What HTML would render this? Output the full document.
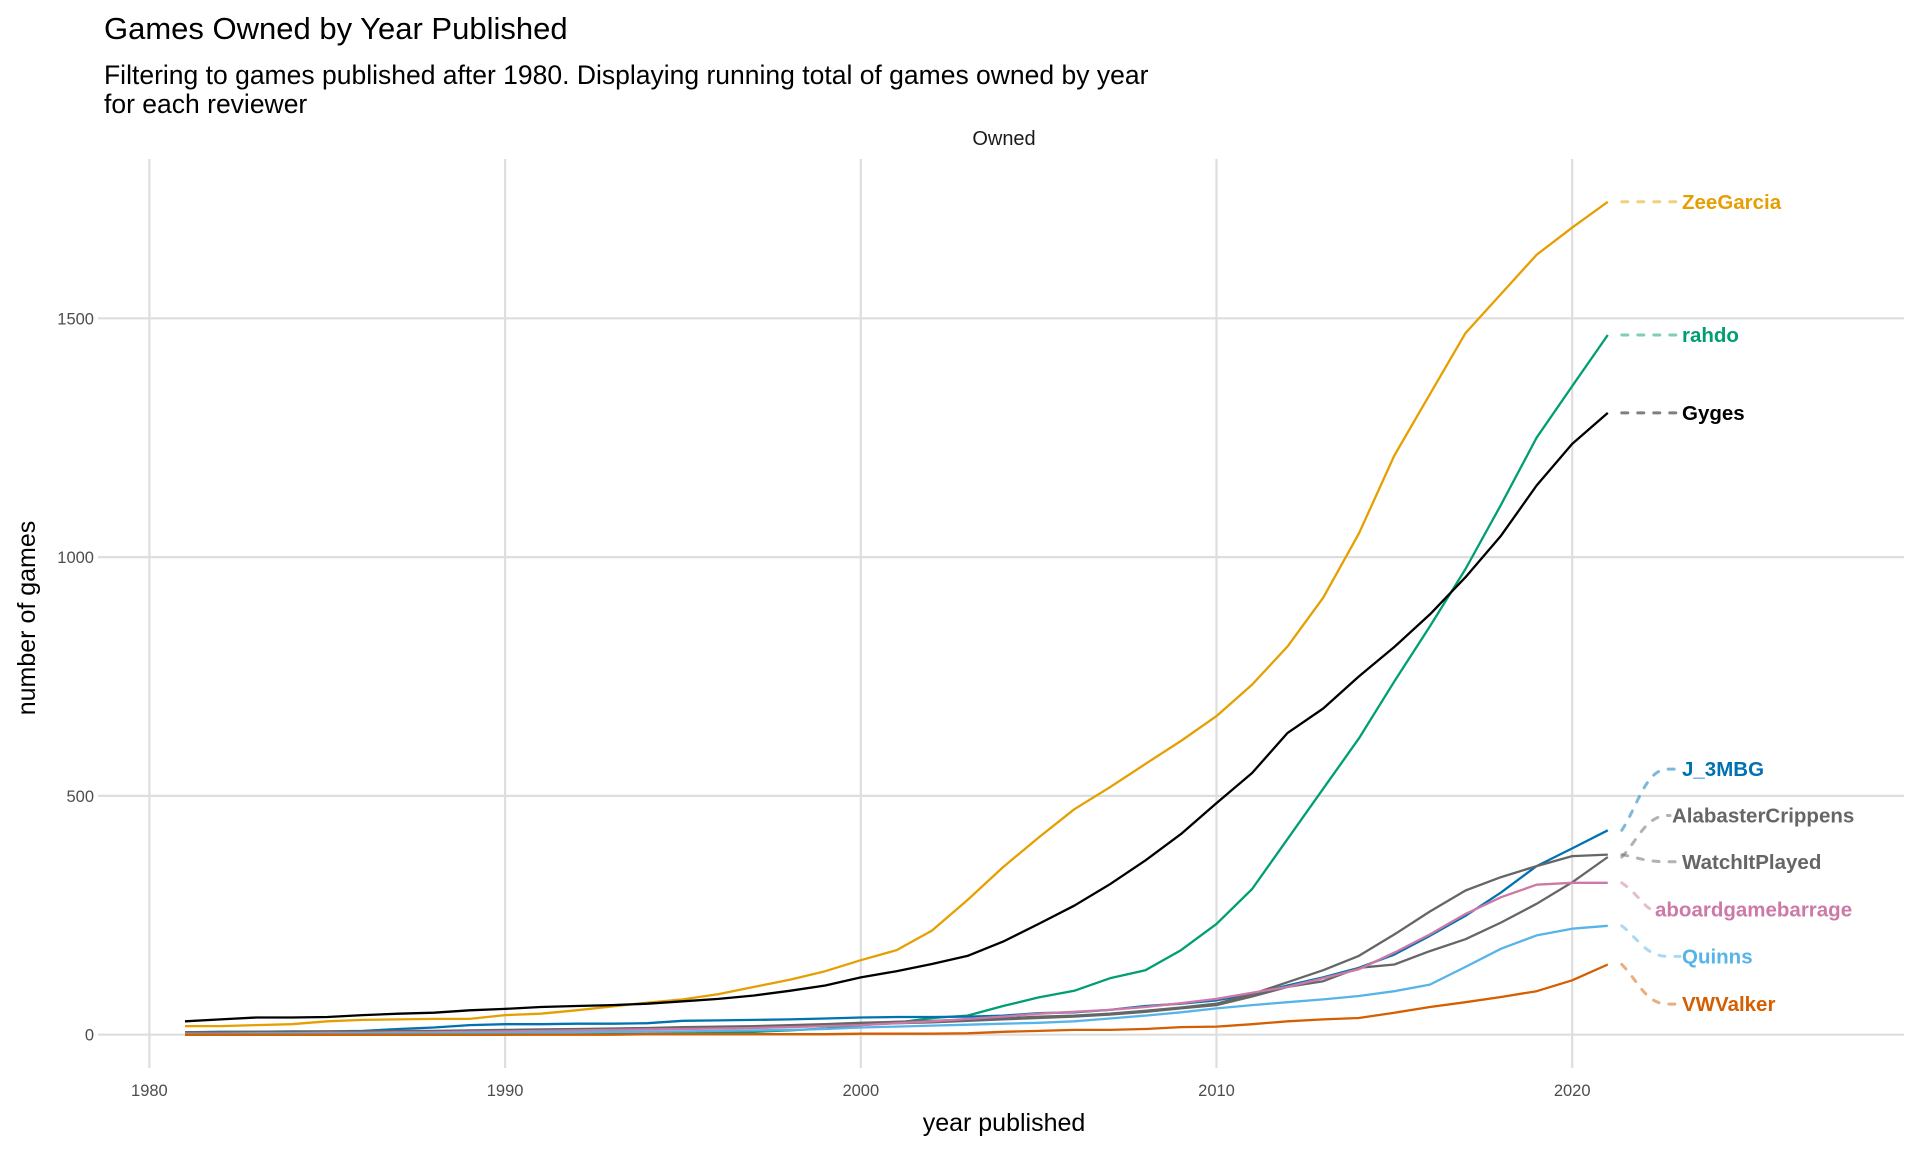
<!DOCTYPE html>
<html><head><meta charset="utf-8">
<style>
html,body{margin:0;padding:0;background:#fff;}
body{width:1920px;height:1152px;overflow:hidden;font-family:"Liberation Sans",Arial,sans-serif;}
svg text{font-family:"Liberation Sans",Arial,sans-serif;}
</style></head>
<body>
<svg id="chart" width="1920" height="1152" viewBox="0 0 1920 1152" xmlns="http://www.w3.org/2000/svg">
<text x="104" y="39" font-size="31" fill="#000">Games Owned by Year Published</text>
<text x="104" y="84" font-size="26.5" fill="#000">Filtering to games published after 1980. Displaying running total of games owned by year</text>
<text x="104" y="113" font-size="26.5" fill="#000">for each reviewer</text>
<text x="1004" y="145" font-size="20" text-anchor="middle" fill="#1a1a1a">Owned</text>
<g id="grid"></g>
<g id="series"></g>
<g id="labels"></g>
<text x="1004" y="1131" font-size="25" text-anchor="middle" fill="#000">year published</text>
<text transform="translate(35,618) rotate(-90)" font-size="25" text-anchor="middle" fill="#000">number of games</text>
</svg>
<script>
const years = [1981,1982,1983,1984,1985,1986,1987,1988,1989,1990,1991,1992,1993,1994,1995,1996,1997,1998,1999,2000,2001,2002,2003,2004,2005,2006,2007,2008,2009,2010,2011,2012,2013,2014,2015,2016,2017,2018,2019,2020,2021];
const xTicks = [1980,1990,2000,2010,2020];
const yTicks = [0,500,1000,1500];
const seriesNames = ["ZeeGarcia","rahdo","Gyges","J_3MBG","AlabasterCrippens","WatchItPlayed","aboardgamebarrage","Quinns","VWValker"];
const seriesColors = ["#E69F00","#009E73","#000000","#0072B2","#666666","#666666","#CC79A7","#56B4E9","#D55E00"];
const zeeGarcia = [18,18,20,22,28,31,32,33,33,41,44,51,59,67,74,85,100,115,133,156,177,218,282,351,413,472,518,567,615,667,733,813,915,1049,1213,1341,1469,1551,1633,1690,1744];
const rahdo = [0,0,0,0,0,0,0,0,0,0,1,1,1,2,3,4,6,9,13,20,25,35,40,60,78,92,118,135,177,232,305,410,515,620,740,855,975,1110,1250,1358,1465];
const gyges = [28,32,36,36,37,41,44,46,51,54,58,60,62,65,70,75,82,92,103,120,133,148,165,195,232,270,315,365,420,485,548,632,683,750,812,880,958,1045,1150,1237,1302];
const j3mbg = [5,6,6,7,7,8,12,15,20,22,22,23,23,24,29,30,31,32,34,36,37,37,38,40,45,47,52,60,65,72,85,103,120,140,168,207,249,298,353,390,428];
const alabaster = [3,3,4,4,5,5,6,6,7,8,9,10,11,12,13,14,16,18,20,22,24,26,29,32,35,38,42,48,55,62,80,100,112,140,147,175,200,235,274,319,372];
const watchItPlayed = [5,5,6,6,7,7,8,8,9,10,11,12,13,14,16,17,18,20,22,25,27,29,31,34,38,40,44,50,57,65,85,110,135,165,210,258,302,330,353,374,377];
const aboard = [2,2,3,3,4,4,5,5,6,7,8,9,10,11,12,13,14,16,18,20,24,28,33,38,44,48,52,58,66,75,88,100,118,137,172,210,253,288,314,318,318];
const quinns = [1,1,2,2,2,3,3,3,4,4,5,5,6,6,7,8,9,10,12,15,17,19,21,23,25,28,34,40,47,55,62,68,74,81,91,105,142,180,208,222,228];
const vwValker = [0,0,0,0,0,0,0,0,0,0,0,0,0,1,1,1,1,1,1,2,2,2,3,6,8,10,10,12,16,17,22,28,32,35,46,58,68,79,91,114,147];
const seriesValues = [zeeGarcia,rahdo,gyges,j3mbg,alabaster,watchItPlayed,aboard,quinns,vwValker];
const labelValues = [1744,1465,1302,556,459,362,262,164,64];

const NS="http://www.w3.org/2000/svg";
const X0=98,X1=1904,YT=159,YB=1068;
function xs(v){return 149.4+(v-1980)*35.57;}
function ys(v){return 1034.7-v*0.4776;}
function mk(tag,attrs,parent){const e=document.createElementNS(NS,tag);for(const k in attrs)e.setAttribute(k,attrs[k]);parent.appendChild(e);return e;}
const grid=document.getElementById('grid');
xTicks.forEach(t=>{
  const l=mk('line',{x1:xs(t),x2:xs(t),y1:YT,y2:YB,stroke:'#dedede','stroke-width':2.2},grid);
  
  
  const tx=mk('text',{x:xs(t),y:1096,'font-size':16.5,'text-anchor':'middle',fill:'#4d4d4d'},grid);
  tx.textContent=t;
  
  
});
yTicks.forEach(t=>{
  const l=mk('line',{x1:X0,x2:X1,y1:ys(t),y2:ys(t),stroke:'#dedede','stroke-width':2.2},grid);
  
  
  const tx=mk('text',{x:94,y:ys(t)+6,'font-size':16.5,'text-anchor':'end',fill:'#4d4d4d'},grid);
  tx.textContent=t;
  
  
});
const sg=document.getElementById('series');
const lg=document.getElementById('labels');
const labelX=[1682,1682,1682,1682,1672,1682,1655,1682,1682];
seriesNames.forEach((n,i)=>{
  const vals=seriesValues[i];
  const d=vals.map((v,j)=>(j?'L':'M')+xs(years[j]).toFixed(1)+','+ys(v).toFixed(1)).join(' ');
  const p=mk('path',{d:d,fill:'none',stroke:seriesColors[i],'stroke-width':2.3,'stroke-linejoin':'round'},sg);
  
  
  const ex=xs(years[years.length-1]), ey=ys(vals[vals.length-1]);
  const ly=ys(labelValues[i]);
  const lx=labelX[i]-2;
  const sx=ex+14;
  let cd;
  if(Math.abs(ly-ey)<4){cd='M'+sx+','+ey+' L'+lx+','+ly;}
  else{const mx=Math.min(ex+60,lx);cd='M'+sx+','+ey+' C'+(ex+30)+','+(ey+(ly-ey)*0.4)+' '+(ex+38)+','+ly+' '+mx+','+ly+' L'+lx+','+ly;}
  const c=mk('path',{d:cd,fill:'none',stroke:seriesColors[i],'stroke-opacity':0.5,'stroke-width':3,'stroke-dasharray':'6,10','stroke-linecap':'round'},lg);
  
  
  const t=mk('text',{x:labelX[i],y:ly+7,'font-size':20.5,'font-weight':'bold',fill:seriesColors[i]},lg);
  t.textContent=n;
  
  
});
</script>
</body></html>
